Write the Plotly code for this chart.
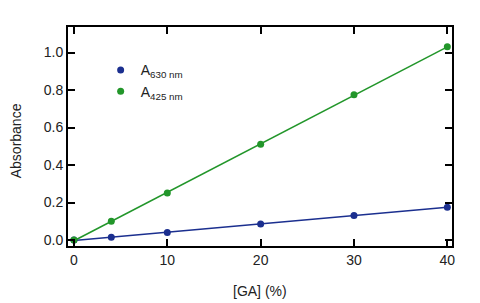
import numpy as np
import plotly.graph_objects as go

ga = [0, 4, 10, 20, 30, 40]
a630 = [0.0, 0.015, 0.04, 0.085, 0.13, 0.175]
a425 = [0.0, 0.10, 0.25, 0.51, 0.775, 1.03]
xticks = [0, 10, 20, 30, 40]
yticks = [0.0, 0.2, 0.4, 0.6, 0.8, 1.0]

blue = "#1b2f8f"
green = "#22962a"
FONT = "Liberation Sans, Arial"

fig = go.Figure()
xf = np.array([0, 40])
for y, c, name in [(a630, blue, "A<sub>630 nm</sub>"), (a425, green, "A<sub>425 nm</sub>")]:
    p = np.polyfit(ga, y, 1)
    fig.add_trace(go.Scatter(x=xf, y=np.polyval(p, xf), mode="lines",
                             line=dict(color=c, width=1.5), showlegend=False, hoverinfo="skip"))
    fig.add_trace(go.Scatter(x=ga, y=y, mode="markers", name=name,
                             marker=dict(color=c, size=7)))

axis_common = dict(showline=True, linecolor="black", linewidth=2, mirror="allticks",
                   ticks="inside", ticklen=7, tickwidth=2, tickcolor="black",
                   showgrid=False, zeroline=False, automargin=False,
                   tickfont=dict(family=FONT, size=14, color="#222"))
fig.update_xaxes(range=[-0.64, 40.5], tickvals=xticks, ticktext=[str(v) for v in xticks],
                 **axis_common)
fig.update_yaxes(range=[-0.032, 1.136], tickvals=yticks, ticktext=[f"{v:.1f}" for v in yticks],
                 **axis_common)
fig.add_annotation(text="[GA] (%)", xref="paper", yref="paper", x=0.5, y=-0.205,
                   xanchor="center", yanchor="middle", showarrow=False,
                   font=dict(family=FONT, size=14, color="#222"))
fig.add_annotation(text="Absorbance", xref="paper", yref="paper", x=-0.137, y=0.48,
                   xanchor="center", yanchor="middle", showarrow=False, textangle=-90,
                   font=dict(family=FONT, size=14, color="#222"))
fig.update_layout(width=480, height=303, margin=dict(l=68, r=28, t=27, b=57),
                  plot_bgcolor="white", paper_bgcolor="white",
                  legend=dict(x=0.085, y=0.875, xanchor="left", yanchor="top", bgcolor="rgba(0,0,0,0)",
                              font=dict(family=FONT, size=14, color="#222"),
                              tracegroupgap=0))
fig.write_html("out.html")
